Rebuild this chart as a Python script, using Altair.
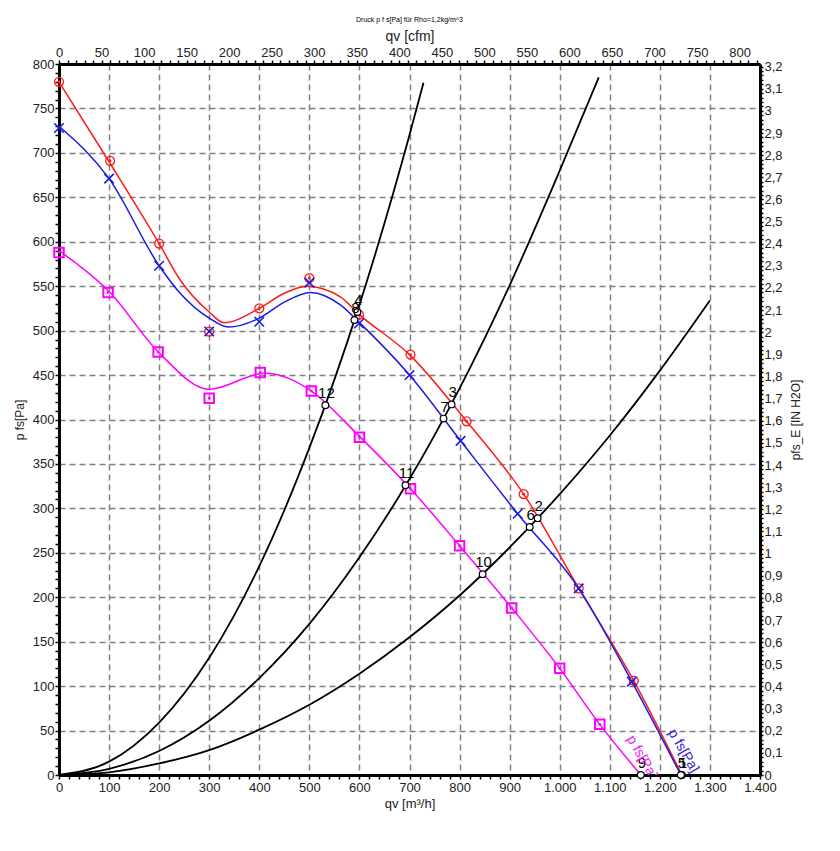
import altair as alt
import pandas as pd

TITLE = "Druck p f s[Pa] für Rho=1,2kg/m^3"

# ---- fan curves (smoothed lines) ----
red_curve_q = [0, 100, 200, 242, 300, 329, 400, 450, 495, 562, 600, 700, 814, 928, 1038, 1148, 1244]
red_curve_p = [780, 690, 598, 557, 521, 509, 525, 542, 550, 538, 518, 473, 398, 316, 210, 106, 0]

blue_curve_q = [0, 100, 200, 242, 300, 338, 400, 450, 502, 562, 600, 700, 802, 916, 1038, 1144, 1242]
blue_curve_p = [730, 671, 573, 542, 514, 504, 514, 532, 543, 529, 509, 450, 376, 294, 210, 105, 0]

mag_curve_q = [0, 100, 200, 300, 410, 460, 504, 600, 702, 800, 904, 1000, 1080, 1162]
mag_curve_p = [590, 544, 475, 434, 452, 446, 432, 381, 322, 258, 188, 120, 57, 0]

# ---- measured markers ----
red_mark_q = [0, 102, 200, 300, 400, 500, 599, 702, 814, 928, 1038, 1148]
red_mark_p = [780, 691, 598, 499, 525, 559, 518, 473, 398, 316, 210, 106]

blue_mark_q = [0, 100, 200, 300, 400, 500, 599, 700, 802, 916, 1038, 1144]
blue_mark_p = [728, 671, 573, 499, 510, 554, 508, 450, 376, 294, 210, 105]

mag_mark_q = [0, 98, 198, 300, 402, 504, 600, 702, 800, 904, 1000, 1080]
mag_mark_p = [588, 543, 476, 424, 453, 432, 380, 322, 258, 188, 120, 57]

# ---- system curves (black) ----
sys1_q = [0, 100, 200, 300, 400, 500, 600, 700, 728]
sys1_p = [0, 15, 59, 132, 235, 368, 529, 720, 779]
sys2_q = [0, 100, 200, 300, 400, 500, 600, 700, 800, 900, 1000, 1078]
sys2_p = [0, 7, 27, 61, 109, 170, 245, 333, 435, 551, 680, 785]
sys3_q = [0, 100, 200, 300, 400, 500, 600, 700, 800, 900, 1000, 1100, 1200, 1300]
sys3_p = [0, 3, 13, 28, 51, 79, 114, 155, 202, 256, 316, 382, 455, 534]

# ---- operating points ----
op_label = ["1", "2", "3", "4", "5", "6", "7", "8", "9", "10", "11", "12"]
op_q = [1244, 956, 784, 596, 1242, 940, 768, 590, 1162, 846, 692, 532]
op_p = [0, 289, 417, 521, 0, 279, 401, 512, 0, 226, 326, 416]

# ---- curve name labels ----
cl_text = ["p  fs[Pa]", "p  fs[Pa]"]
cl_q = [1247, 1164]
cl_p = [27, 20]
cl_color = ["#3a22c8", "#ee22ee"]

FONT = "Liberation Sans"
RED = "#ff1a1a"
BLUE = "#1a1ae6"
MAG = "#ff00ff"


def df(q, p):
    return pd.DataFrame({"q": q, "p": p})


x_axis = alt.Axis(
    orient="bottom", title="qv [m³/h]", values=list(range(0, 1401, 20)),
    labelExpr="datum.value % 100 === 0 ? replace(format(datum.value, ','), ',', '.') : ''",
    grid=True, gridDash=[6, 4], gridColor="#808080", gridWidth=1.5,
    gridOpacity={"condition": {"test": "datum.value % 100 === 0", "value": 1}, "value": 0},
    tickSize=4, tickWidth=1.5, tickColor="#000", labelPadding=2, titlePadding=3,
    labelFlush=False, labelOverlap=False, domainColor="#000", domainWidth=3,
    labelFontSize=13, titleFontSize=13,
)
y_axis = alt.Axis(
    orient="left", title="p  fs[Pa]", values=list(range(0, 801, 10)),
    labelExpr="datum.value % 50 === 0 ? datum.label : ''",
    grid=True, gridDash=[6, 4], gridColor="#808080", gridWidth=1.5,
    gridOpacity={"condition": {"test": "datum.value % 50 === 0", "value": 1}, "value": 0},
    tickSize=4, tickWidth=1.5, tickColor="#000", labelPadding=1, titlePadding=6,
    labelFlush=False, labelOverlap=False, domainColor="#000", domainWidth=3,
    labelFontSize=13, titleFontSize=12,
)

X = alt.X("q:Q", scale=alt.Scale(domain=[0, 1400], nice=False, zero=False), axis=x_axis)
Y = alt.Y("p:Q", scale=alt.Scale(domain=[0, 800], nice=False, zero=False), axis=y_axis)


def line(q, p, color, width=1.5):
    return alt.Chart(df(q, p)).mark_line(color=color, strokeWidth=width, interpolate="monotone").encode(x=X, y=Y)


layers = [
    line(sys1_q, sys1_p, "#000", 1.8),
    line(sys2_q, sys2_p, "#000", 1.8),
    line(sys3_q, sys3_p, "#000", 1.8),
    line(mag_curve_q, mag_curve_p, MAG),
    line(red_curve_q, red_curve_p, RED),
    line(blue_curve_q, blue_curve_p, BLUE),
    alt.Chart(df(mag_mark_q, mag_mark_p)).mark_point(shape="square", filled=False, color=MAG, strokeWidth=2, size=90, opacity=1).encode(x=X, y=Y),
    alt.Chart(df(mag_mark_q, mag_mark_p)).mark_point(shape="square", filled=True, color=MAG, size=6, opacity=1).encode(x=X, y=Y),
    alt.Chart(df(red_mark_q, red_mark_p)).mark_point(shape="circle", filled=False, color=RED, strokeWidth=1.3, size=80, opacity=1).encode(x=X, y=Y),
    alt.Chart(df(red_mark_q, red_mark_p)).mark_point(shape="circle", filled=True, color=RED, size=8, opacity=1).encode(x=X, y=Y),
    alt.Chart(df(blue_mark_q, blue_mark_p)).mark_point(shape="M-1,-1L1,1M-1,1L1,-1", filled=False, color=BLUE, strokeWidth=1.6, size=90, opacity=1).encode(x=X, y=Y),
    alt.Chart(pd.DataFrame({"q": op_q, "p": op_p})).mark_point(shape="circle", filled=True, fill="#ffffff", stroke="#000", strokeWidth=1.2, size=45, opacity=1).encode(x=X, y=Y),
    alt.Chart(pd.DataFrame({"q": op_q, "p": op_p, "t": op_label})).mark_text(
        font=FONT, fontSize=15, color="#000", align="center", baseline="alphabetic", dy=-7, dx=1
    ).encode(x=X, y=Y, text="t:N"),
    alt.Chart(pd.DataFrame({"q": cl_q, "p": cl_p, "t": cl_text, "c": cl_color})).mark_text(
        font=FONT, fontSize=14, align="center", baseline="middle", angle=60, clip=True
    ).encode(x=X, y=Y, text="t:N", color=alt.Color("c:N", scale=None)),
]

main = alt.layer(*layers)

# secondary axes: cfm on top, IN H2O on right
dummy = alt.Chart(pd.DataFrame({"cfm": [0], "inh2o": [0]})).mark_point(opacity=0).encode(
    x=alt.X("cfm:Q", scale=alt.Scale(domain=[0, 1400 / 1.69901], nice=False, zero=False),
            axis=alt.Axis(orient="top", title="qv [cfm]", values=list(range(0, 821, 10)),
                          labelExpr="datum.value % 50 === 0 ? datum.label : ''",
                          grid=False, tickSize=4, tickWidth=1.5, tickColor="#000",
                          labelPadding=1, titlePadding=3, labelFlush=False, labelOverlap=False,
                          domainColor="#000", domainWidth=3, labelFontSize=13, titleFontSize=14)),
    y=alt.Y("inh2o:Q", scale=alt.Scale(domain=[0, 800 / 249.089], nice=False, zero=False),
            axis=alt.Axis(orient="right", title="pfs_E [IN H2O]", titleAngle=270, titleBaseline="top",
                          values=[round(i * 0.02, 2) for i in range(161)],
                          labelExpr="round(datum.value * 50) % 5 === 0 ? replace(format(datum.value, '~g'), '.', ',') : ''",
                          grid=False, tickSize=3, tickWidth=1.5, tickColor="#000",
                          labelPadding=1, titlePadding=8, labelFlush=False, labelOverlap=False,
                          domainColor="#000", domainWidth=3, labelFontSize=13, titleFontSize=12)),
)

chart = alt.layer(main, dummy).resolve_scale(x="independent", y="independent").properties(
    width=701, height=711,
    autosize=alt.AutoSizeParams(type="none"),
    padding={"left": 51, "top": 56, "right": 70, "bottom": 60},
    title=alt.Title(TITLE, fontSize=7, font=FONT, fontWeight="normal", anchor="middle", offset=6, color="#000"),
).configure_axis(
    labelFont=FONT, titleFont=FONT, labelColor="#222", titleColor="#222", titleFontWeight="normal"
).configure_view(strokeWidth=0)

chart.save("out.html", embed_options={"renderer": "svg", "actions": False})
